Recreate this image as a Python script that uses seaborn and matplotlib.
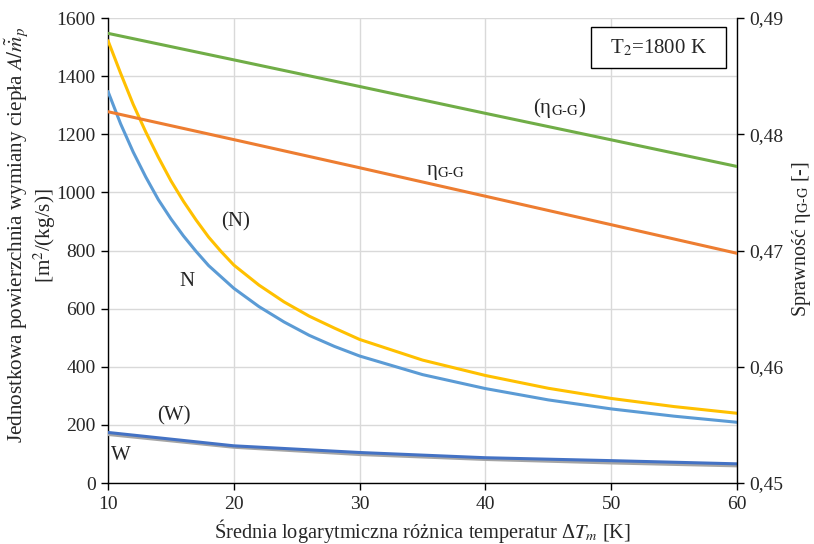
import numpy as np
import pandas as pd
import matplotlib
matplotlib.use("Agg")
import matplotlib.pyplot as plt
import seaborn as sns
from matplotlib.patches import Rectangle
from matplotlib.ticker import FuncFormatter, MultipleLocator

# Mean logarithmic temperature difference [K]
dt_curve = [10, 11, 12, 13, 14, 15, 16, 17, 18, 19, 20, 22, 24, 26, 28, 30, 35, 40, 45, 50, 55, 60]
# Specific heat-exchange area, variant N
area_N = [1347, 1236, 1139, 1053, 975, 909, 850, 797, 748, 709, 670, 607, 554, 508, 470, 437,
          373, 325, 286, 255, 230, 209]
# Specific heat-exchange area, variant (N)
area_N_par = [1522, 1410, 1303, 1208, 1121, 1040, 969, 905, 846, 796, 750, 681, 623, 574, 533,
              494, 423, 370, 326, 291, 263, 240]

dt_w = [10, 20, 30, 40, 50, 60]
area_W = [168, 124, 99, 82, 70, 60]
area_W_par = [174, 128, 105, 87, 77, 66]

dt_eta = [10, 20, 30, 40, 50, 60]
eta_GG = [0.48194, 0.47954, 0.47712, 0.47467, 0.47222, 0.46976]
eta_GG_par = [0.48868, 0.48640, 0.48411, 0.48180, 0.47952, 0.47723]

sns.set_theme(style="white")
plt.rcParams["font.family"] = ["Liberation Serif", "DejaVu Serif"]
plt.rcParams["mathtext.fontset"] = "stix"

fig = plt.figure(figsize=(8.14, 5.44), dpi=100)
ax = fig.add_axes([0.1327, 0.1121, 0.7727, 0.8548])
ax2 = ax.twinx()

lw = 2.2
c_blue = "#5B9BD5"
c_orange = "#ED7D31"
c_gray = "#A5A5A5"
c_yellow = "#FFC000"
c_dblue = "#4472C4"
c_green = "#70AD47"

curves = pd.DataFrame({"dt": dt_curve, "N": area_N, "(N)": area_N_par})
wdf = pd.DataFrame({"dt": dt_w, "W": area_W, "(W)": area_W_par})
edf = pd.DataFrame({"dt": dt_eta, "eta": eta_GG, "eta_par": eta_GG_par})

sns.lineplot(data=curves, x="dt", y="N", ax=ax, color=c_blue, lw=lw, zorder=3)
sns.lineplot(data=curves, x="dt", y="(N)", ax=ax, color=c_yellow, lw=lw, zorder=3)
sns.lineplot(data=wdf, x="dt", y="W", ax=ax, color=c_gray, lw=lw + 0.4, zorder=3)
sns.lineplot(data=wdf, x="dt", y="(W)", ax=ax, color=c_dblue, lw=lw, zorder=4)
sns.lineplot(data=edf, x="dt", y="eta", ax=ax2, color=c_orange, lw=lw, zorder=3)
sns.lineplot(data=edf, x="dt", y="eta_par", ax=ax2, color=c_green, lw=lw, zorder=3)

ax.set_xlim(10, 60)
ax.set_ylim(0, 1600)
ax2.set_ylim(0.45, 0.49)
ax.xaxis.set_major_locator(MultipleLocator(10))
ax.yaxis.set_major_locator(MultipleLocator(200))
ax2.yaxis.set_major_locator(MultipleLocator(0.01))
ax2.yaxis.set_major_formatter(FuncFormatter(lambda v, p: f"{v:.2f}".replace(".", ",")))

ax.grid(True, color="#D9D9D9", lw=1.0, zorder=0)
ax.set_axisbelow(True)
ax2.grid(False)

for a in (ax, ax2):
    a.spines["top"].set_visible(False)
    for s in ("left", "right", "bottom"):
        a.spines[s].set_color("black")
        a.spines[s].set_linewidth(1.0)
ax.spines["right"].set_visible(False)
ax2.spines["left"].set_visible(False)
ax2.spines["bottom"].set_visible(False)

ax.tick_params(axis="both", which="major", direction="out", length=5, width=1,
               color="black", labelsize=14, pad=4, left=True, bottom=True)
ax2.tick_params(axis="y", direction="out", length=5, width=1, color="black",
                labelsize=14, pad=4, right=True)

ax.set_xlabel(r"Średnia logarytmiczna różnica temperatur Δ$T_m$ [K]", fontsize=14.7, labelpad=3)
ax.set_ylabel("Jednostkowa powierzchnia wymiany ciepła $A/\\tilde{\\dot{m}}_p$\n[m$^2$/(kg/s)]",
              fontsize=15.2, linespacing=1.0)
ax.yaxis.set_label_coords(-0.080, 0.533)
ax2.set_ylabel("Sprawność η$_{\\mathrm{G‐G}}$ [-]", fontsize=14.5, rotation=90)
ax2.yaxis.set_label_coords(1.084, 0.525)

fs = 15
ax2.text(45.9, 0.48226, "(η$_{\\mathrm{G‐G}}$)", fontsize=fs, ha="center", va="center")
ax2.text(36.8, 0.47675, "η$_{\\mathrm{G‐G}}$", fontsize=fs, ha="center", va="center")
ax.text(20.1, 898, "(N)", fontsize=fs, ha="center", va="center")
ax.text(16.3, 692, "N", fontsize=fs, ha="center", va="center")
ax.text(15.25, 230, "(W)", fontsize=fs, ha="center", va="center")
ax.text(11.0, 94, "W", fontsize=fs, ha="center", va="center")

# Boxed caption with the turbine inlet temperature
ax.add_patch(Rectangle((0.768, 0.8925), 0.2145, 0.0881, transform=ax.transAxes,
                       fc="white", ec="black", lw=1.0, zorder=6))
ax.text(0.875, 0.9366, "T$_2$=1800 K", transform=ax.transAxes, fontsize=fs,
        ha="center", va="center", zorder=7)

fig.savefig("out.png", dpi=100)
